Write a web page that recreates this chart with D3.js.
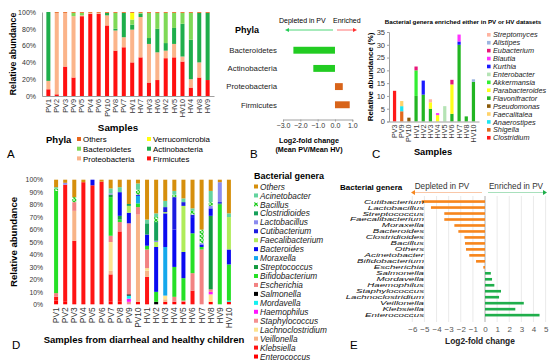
<!DOCTYPE html>
<html>
<head>
<meta charset="utf-8">
<script src="https://d3js.org/d3.v7.min.js"></script>
<style>
    body { margin: 0; background: #fff; }
    svg { display: block; font-family: Arial, "Liberation Sans", sans-serif; }
</style>
</head>
<body>
<svg width="550" height="362"></svg>
<script>
// ---- A: phyla per sample (%) ----
const aSamples = ["PV1","PV2","PV3","PV9","PV5","PV4","PV6","PV10","PV8","PV7","HV1","HV7","HV3","HV6","HV2","HV5","HV10","HV4","HV8","HV9"];
const aPhyla = ["Firmicutes","Proteobacteria","Actinobacteria","Bacteroidetes","Verrucomicrobia","Others"];
const aColors = ["#ff1010","#fbb48a","#1fae4b","#7fd957","#ffff10","#e8661c"];
const aValues = [
    [8,10,82,0,0,0], [2,97,0,0,0,1], [35,64,0,0,0,1], [22,73,0,4,0,1], [95,1,0,3,0,1],
    [98,1,0,0,0,1], [98,1,0,0,0,1], [84,12,3,0,0,1], [54,24,2,19,0,1], [58,12,29,0,0,1],
    [40,39,6,6,8,1], [46,48,4,1,0,1], [16,46,7,30,0,1], [19,33,28,19,0,1], [45,9,9,36,0,1],
    [46,16,19,18,0,1], [41,6,39,13,0,1], [10,10,47,32,0,1], [22,18,59,0,0,1], [19,0,80,0,0,1]
];

// ---- B: log2 fold change of phyla ----
const bPhyla = ["Bacteroidetes","Actinobacteria","Proteobacteria","Firmicutes"];
const bLog2 = [-2.4, -1.25, 0.45, 0.85];
const bTicks = [-3, -2, -1, 0, 1];

// ---- C: enriched genera (%) ----
const cSamples = ["PV3","PV9","PV10","HV1","HV2","HV3","HV4","HV5","HV6","HV7","HV8","HV10"];
const cGenera = ["Clostridium","Shigella","Anaerostipes","Faecalitalea","Pseudomonas","Flavonifractor","Parabacteroides","Akkermansia","Enterobacter","Kurthia","Blautia","Eubacterium","Alistipes","Streptomyces"];
const cColors = ["#ff1a1a","#e2691c","#1ce6f0","#ffd36b","#8a5a0a","#22b522","#ffff1a","#33ee33","#b5e3b5","#1a1aff","#ff33ff","#e8177a","#9cb5e0","#ffb3a0"];
const cValues = [
    [12,0,0,0,0,0,0,0,0,0,0,0,0,0],
    [0,4,2,2,0,0,0,0,0,0,0,0,0,0],
    [0,0,0,0,1.5,0,0,0,0,0,0,0,0,0],
    [0,0,0,0,0,10,0,10,0,0,0,1.5,0,0],
    [0,0,0,0,0,10.5,0,0,0,5.5,0,0,0,0],
    [0,0,0,0,0,5,2.5,0,0,0,0,0,0,1.2],
    [0,0,0,0,0,0,2.5,0,0,0,0.8,0,0,0],
    [0,0,0,0,0,0,0,0,6,0,0,0,0,0],
    [0,0,0,0,0,3,11.5,0,0,0,0,1.8,0,0],
    [0,0,0,0,0,30,0,0,0,1.3,2.7,0,0,0],
    [0,0,0,0,0,2,0,0,0,0,0,0,0,0],
    [0,0,0,0,0,15.5,0,0,0,0,0,0,1,0]
];
const cTicks = [0,5,10,15,20,25,30,35];

// ---- D: genera per sample (%) ----
const dSamples = ["PV1","PV2","PV3","PV4","PV5","PV6","PV7","PV8","PV9","PV10","HV1","HV2","HV3","HV4","HV5","HV6","HV7","HV8","HV9","HV10"];
const dGenera = ["Enterococcus","Klebsiella","Veillonella","Lachnoclostridium","Staphylococcus","Haemophilus","Mordavella","Salmonella","Escherichia","Bifidobacterium","Streptococcus","Moraxella","Bacteroides","Faecalibacterium","Cutibacterium","Lactobacillus","Clostridioides","Bacillus","Acinetobacter","Others"];
const dColors = ["#ff0000","#ff1414","#f8b487","#fde38e","#f59090","#ff14ff","#14f0f0","#000000","#f28282","#26e026","#129a40","#14a8ec","#0a0af0","#b0ec5a","#1c1ce0","#8b8bef","#16a05a","url(#bacillus)","#63d39e","#d68f0c"];
const dValues = [
    [3,3,0,0,0,0,0,0,3,82,0,0,0,0,0,0,0,2,1,6],
    [2,94,0,0,0,0,0,0,0,0,0,0,0,0,0,1.5,0,0,0,2.5],
    [1,50,24,0,0,0,0,0,7,0,0,0,0,0,0,0,0,4,0,14],
    [1,97,0,0,0,0,0,0,0,0,0,0,0,0,0,0,0,0,0,2],
    [1,94.5,0,0,0,0,0,0,0,0,0,0,4.5,0,0,0,0,0,0,0],
    [1,97.5,0,0,0,0,0,0,0,0,0,0,0,0,0,0,0,0,0,1.5],
    [2,22,3,23,0,0,0,0,5,31,2,0,0,0,0,1,0,0,4,7],
    [2,56.5,0,0,0,0,0,0,7.5,2,3,0,19,0,0,0,0,0,4,6],
    [0,0,0,0,2,2.5,2.5,1,57,0,0,0,8.5,5.5,0,0,1.5,0,0,19.5],
    [2,0,70,0,0,0,0,0,6,3,0,6,0,0,1,0,0,4,5,3],
    [1,21,5,2,0,0,0,0,15,3,0,0,9,0,0,0,9,0,3,32],
    [0,0,0,0,0,0,0,2,0,8,0,0,36,4,0,1,15,4,3,27],
    [2,0,2,3,0,0,0,0,0,0,0,39,27,1,4,0,0,0,5,17],
    [2,0,0,0,0,0,0,0,4,24,0,0,30,0,26,0,0,2,3,9],
    [2,0,0,0,0,0,0,0,1,18,0,0,21,37,3,0,0,0,3,15],
    [0,11,0,0,0,0,0,0,14,32,0,0,13,0,2,0,0,3,2,23],
    [0,0,0,0,0,0,0,0,44,2,0,0,2,0,0,1,0,11,0,40],
    [2,0,0,6,0,2,0,0,2,0,59,0,6,0,0,2,0,3,9,9],
    [0,0,0,0,0,0,0,0,0,80,1,0,1,0,0,16,0,0,0,2],
    [2,0,0,0,0,0,1,0,0,29,0,0,12,26,0,0,0,0,3,27]
];

// ---- E: log2 fold change of genera ----
const eGenera = ["Cutibacterium","Lactobacillus","Streptococcus","Faecalibacterium","Moraxella","Bacteroides","Clostridioides","Bacillus","Others","Acinetobacter","Bifidobacterium","Escherichia","Salmonella","Mordavella","Haemophilus","Staphylococcus","Lachnoclostridium","Veillonella","Klebsiella","Enterococcus"];
const eLog2 = [-5.23,-4.46,-3.36,-3.36,-2.53,-2.2,-1.7,-1.65,-1.57,-1.3,-0.74,-0.14,0.48,0.58,0.77,1.32,1.16,3.2,2.5,4.5];
const eTicks = [-6,-5,-4,-3,-2,-1,0,1,2,3,4,5];

const pct = [0,10,20,30,40,50,60,70,80,90,100];

const svg = d3.select("svg");
const defs = svg.append("defs");
const pat = defs.append("pattern").attr("id", "bacillus").attr("width", 4).attr("height", 4)
    .attr("patternUnits", "userSpaceOnUse");
pat.append("rect").attr("width", 4).attr("height", 4).attr("fill", "#fff");
pat.append("path").attr("d", "M0,0L4,4M4,0L0,4").attr("stroke", "#22cc22").attr("stroke-width", 1.3);

function txt(g, x, y, s, size, opt = {}) {
    return g.append("text").attr("x", x).attr("y", y).text(s)
        .attr("font-size", size + "px")
        .attr("font-weight", opt.bold ? "bold" : null)
        .attr("font-style", opt.italic ? "italic" : null)
        .attr("text-anchor", opt.anchor || "start")
        .attr("fill", opt.fill || "#000");
}

function styleAxis(g, size) {
    g.attr("font-family", null).attr("font-size", size + "px");
    g.select(".domain").attr("stroke", "#a0a0a0");
    g.selectAll(".tick line").attr("stroke", "#a0a0a0");
    g.selectAll(".tick text").attr("fill", "#333");
}

function rotatedLabels(g) {
    g.selectAll(".tick text")
        .attr("transform", "rotate(-90)")
        .attr("x", -3).attr("y", 0).attr("dy", "0.35em")
        .attr("text-anchor", "end");
}

function stackedBars(g, values, names, colors, x, y) {
    const series = d3.stack().keys(d3.range(colors.length)).value((row, k) => row[k])(values);
    g.selectAll("g.layer").data(series).join("g").attr("class", "layer")
        .attr("fill", s => colors[s.key])
        .selectAll("rect").data(s => s.filter(d => d[1] > d[0]).map(d => ({ d, i: s.indexOf(d) })))
        .join("rect")
        .attr("x", o => x(names[o.i]))
        .attr("y", o => y(o.d[1]))
        .attr("width", x.bandwidth())
        .attr("height", o => y(o.d[0]) - y(o.d[1]));
}

// ================= Panel A =================
const gA = svg.append("g");
const xA = d3.scaleBand().domain(aSamples).range([42, 214]).padding(0.52);
const yA = d3.scaleLinear().domain([0, 100]).range([96, 12]);
stackedBars(gA, aValues, aSamples, aColors, xA, yA);
gA.append("g").attr("transform", "translate(42,0)")
    .call(d3.axisLeft(yA).tickValues([0,20,40,60,80,100]).tickFormat(d => d + "%").tickSize(0).tickPadding(6))
    .call(g => styleAxis(g, 7));
gA.append("g").attr("transform", "translate(0,96)")
    .call(d3.axisBottom(xA).tickSize(0).tickPadding(3))
    .call(g => styleAxis(g, 7.3))
    .call(rotatedLabels);
txt(gA, 0, 0, "Relative abundance", 8.8, { bold: true, anchor: "middle" })
    .attr("transform", "translate(16,54) rotate(-90)");
txt(gA, 118, 131, "Samples", 9.8, { bold: true, anchor: "middle" });
txt(gA, 46, 143, "Phyla", 9.5, { bold: true });
const aLegend = [["Others", 0, 0], ["Bacteroidetes", 0, 1], ["Proteobacteria", 0, 2],
                 ["Verrucomicrobia", 1, 0], ["Actinobacteria", 1, 1], ["Firmicutes", 1, 2]];
aLegend.forEach(([name, col, row]) => {
    const lx = col ? 147 : 77, ly = 139.5 + row * 9.7;
    gA.append("rect").attr("x", lx).attr("y", ly - 2.5).attr("width", 4).attr("height", 4)
        .attr("fill", aColors[aPhyla.indexOf(name)]);
    txt(gA, lx + 6, ly + 2.8, name, 7.9);
});
txt(gA, 7, 158, "A", 11.5);

// ================= Panel B =================
const gB = svg.append("g");
const xB = d3.scaleLinear().domain([-3, 1]).range([283, 352.3]);
const yB = d3.scaleBand().domain(bPhyla).range([35.5, 119.5]).padding(0.62);
gB.selectAll("rect").data(bPhyla).join("rect")
    .attr("x", (d, i) => xB(Math.min(0, bLog2[i])))
    .attr("y", d => yB(d))
    .attr("width", (d, i) => Math.abs(xB(bLog2[i]) - xB(0)))
    .attr("height", yB.bandwidth())
    .attr("fill", (d, i) => bLog2[i] < 0 ? "#22cc22" : "#d8641a");
gB.append("g").attr("transform", "translate(0,119.5)")
    .call(d3.axisBottom(xB).tickValues(bTicks).tickFormat(d3.format(".1f")).tickSize(2).tickPadding(2))
    .call(g => styleAxis(g, 7));
bPhyla.forEach(p => txt(gB, 277, yB(p) + yB.bandwidth() / 2 + 2.8, p, 7.8, { anchor: "end", fill: "#222" }));
txt(gB, 235, 33, "Phyla", 9, { bold: true });
txt(gB, 279, 23, "Depleted in PV", 7);
txt(gB, 333, 23, "Enriched", 7);
gB.append("line").attr("x1", 288).attr("x2", 333).attr("y1", 30).attr("y2", 30).attr("stroke", "#22cc55").attr("stroke-width", 0.8);
gB.append("path").attr("d", "M285,30l4,-2v4z").attr("fill", "#22cc55");
gB.append("line").attr("x1", 337).attr("x2", 354).attr("y1", 30).attr("y2", 30).attr("stroke", "#ff5050").attr("stroke-width", 0.8);
gB.append("path").attr("d", "M357,30l-4,-2v4z").attr("fill", "#ff3030");
txt(gB, 309, 143, "Log2-fold change", 7.2, { bold: true, anchor: "middle" });
txt(gB, 309, 152, "(Mean PV/Mean HV)", 7.2, { bold: true, anchor: "middle" });
txt(gB, 250, 158, "B", 11.5);

// ================= Panel C =================
const gC = svg.append("g");
const xC = d3.scaleBand().domain(cSamples).range([389, 479]).padding(0.55);
const yC = d3.scaleLinear().domain([0, 35]).range([121.5, 32]);
stackedBars(gC, cValues, cSamples, cColors, xC, yC);
gC.append("g").attr("transform", "translate(389,0)")
    .call(d3.axisLeft(yC).tickValues(cTicks).tickSize(2).tickPadding(2))
    .call(g => styleAxis(g, 7.5));
gC.append("g").attr("transform", "translate(0,121.5)")
    .call(d3.axisBottom(xC).tickSize(0).tickPadding(3))
    .call(g => styleAxis(g, 7.2))
    .call(rotatedLabels);
txt(gC, 0, 0, "Relative abundance (%)", 7.9, { bold: true, anchor: "middle" })
    .attr("transform", "translate(373,77) rotate(-90)");
txt(gC, 463, 24, "Bacterial genera enriched either in PV or HV datasets", 6.2, { bold: true, anchor: "middle" });
txt(gC, 433, 155, "Samples", 9.3, { bold: true, anchor: "middle" });
cGenera.slice().reverse().forEach((name, r) => {
    const ly = 35 + r * 7.92;
    gC.append("rect").attr("x", 487).attr("y", ly - 2).attr("width", 3.6).attr("height", 3.6)
        .attr("fill", cColors[cGenera.indexOf(name)]);
    txt(gC, 493, ly + 2.4, name, 7.3, { italic: true, fill: "#222" });
});
txt(gC, 372, 158, "C", 11.5);

// ================= Panel D =================
const gD = svg.append("g");
const xD = d3.scaleBand().domain(dSamples).range([49, 236]).padding(0.56);
const yD = d3.scaleLinear().domain([0, 100]).range([304.3, 179.7]);
stackedBars(gD, dValues, dSamples, dColors, xD, yD);
gD.append("g").attr("transform", "translate(47,0)")
    .call(d3.axisLeft(yD).tickValues(pct).tickFormat(d => d + "%").tickSize(0).tickPadding(4))
    .call(g => styleAxis(g, 6.8))
    .call(g => g.select(".domain").remove());
gD.append("g").attr("transform", "translate(0,304.3)")
    .call(d3.axisBottom(xD).tickSize(0).tickPadding(3))
    .call(g => styleAxis(g, 8.4))
    .call(g => g.select(".domain").remove())
    .call(rotatedLabels);
txt(gD, 0, 0, "Relative abundance", 9.6, { bold: true, anchor: "middle" })
    .attr("transform", "translate(17,242) rotate(-90)");
txt(gD, 144, 343, "Samples from diarrheal and healthy children", 9.5, { bold: true, anchor: "middle" });
txt(gD, 254, 179, "Bacterial genera", 9, { bold: true });
dGenera.slice().reverse().forEach((name, r) => {
    const ly = 186.7 + r * 8.95;
    gD.append("rect").attr("x", 254).attr("y", ly - 2.2).attr("width", 4).attr("height", 4)
        .attr("fill", dColors[dGenera.indexOf(name)]);
    txt(gD, 260, ly + 2.9, name, 8.3, { italic: true, fill: "#222" });
});
txt(gD, 12, 349, "D", 11.5);

// ================= Panel E =================
const gE = svg.append("g");
const xE = d3.scaleLinear().domain([-6, 5]).range([412.3, 545.6]);
const yE = d3.scaleBand().domain(eGenera).range([196.9, 319.8]).padding(0.56);
gE.selectAll("line.grid").data(eTicks).join("line").attr("class", "grid")
    .attr("x1", d => xE(d)).attr("x2", d => xE(d))
    .attr("y1", 196).attr("y2", 322)
    .attr("stroke", d => d === 0 ? "#999" : "#e4e4e4").attr("stroke-width", 0.8);
gE.selectAll("rect").data(eGenera).join("rect")
    .attr("x", (d, i) => xE(Math.min(0, eLog2[i])))
    .attr("y", d => yE(d))
    .attr("width", (d, i) => Math.abs(xE(eLog2[i]) - xE(0)))
    .attr("height", yE.bandwidth())
    .attr("fill", (d, i) => eLog2[i] < 0 ? "#f7861d" : "#1fae4b");
gE.append("g").attr("transform", "translate(0,322)")
    .call(d3.axisBottom(xE).tickValues(eTicks).tickSize(0).tickPadding(4))
    .call(g => styleAxis(g, 8))
    .call(g => g.select(".domain").remove())
    .call(g => g.selectAll(".tick text").attr("fill", "#555"));
// labels in this panel are horizontally stretched in the source figure
eGenera.forEach(name => {
    txt(gE, 0, 0, name, 5.8, { italic: true, anchor: "end", fill: "#111" })
        .attr("transform", `translate(424,${yE(name) + yE.bandwidth() / 2 + 2}) scale(1.68,1)`);
});
txt(gE, 340, 190, "Bacterial genera", 8, { bold: true });
txt(gE, 442, 189, "Depleted in PV", 8.2, { anchor: "middle", fill: "#333" });
txt(gE, 516, 189, "Enriched in PV", 8.2, { anchor: "middle", fill: "#333" });
gE.append("line").attr("x1", 415).attr("x2", 482).attr("y1", 192.5).attr("y2", 192.5).attr("stroke", "#f9c7a8").attr("stroke-width", 1);
gE.append("path").attr("d", "M411,192.5l4,-2.5v5z").attr("fill", "#f7861d");
gE.append("line").attr("x1", 488).attr("x2", 543).attr("y1", 192.5).attr("y2", 192.5).attr("stroke", "#a8e0bc").attr("stroke-width", 1);
gE.append("path").attr("d", "M547,192.5l-4,-2.5v5z").attr("fill", "#1fae4b");
txt(gE, 480, 344, "Log2-fold change", 8.4, { bold: true, anchor: "middle", fill: "#222" });
txt(gE, 350, 349, "E", 11.5);
</script>
</body>
</html>
